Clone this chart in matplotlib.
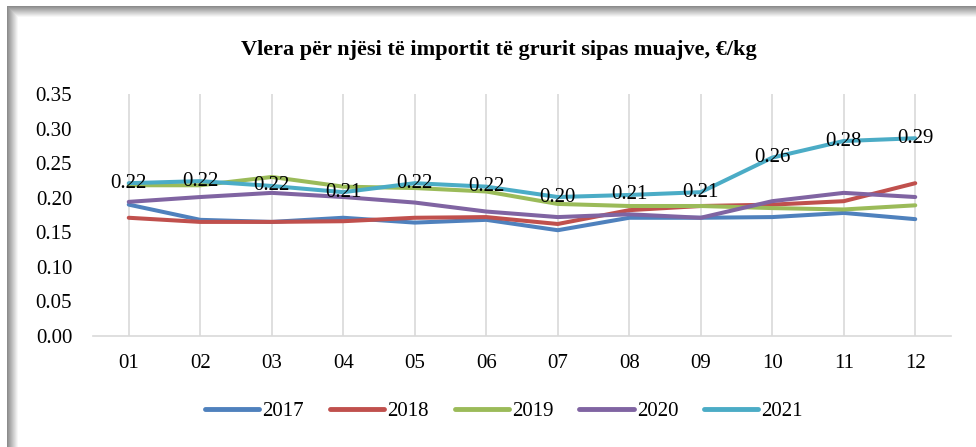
import matplotlib
matplotlib.use("Agg")
import matplotlib.pyplot as plt
from matplotlib.patches import Rectangle

months = ["01", "02", "03", "04", "05", "06", "07", "08", "09", "10", "11", "12"]
y2017 = [0.190, 0.168, 0.165, 0.171, 0.164, 0.168, 0.153, 0.171, 0.171, 0.172, 0.178, 0.169]
y2018 = [0.171, 0.165, 0.165, 0.166, 0.171, 0.172, 0.162, 0.182, 0.188, 0.190, 0.195, 0.221]
y2019 = [0.218, 0.218, 0.230, 0.216, 0.214, 0.209, 0.191, 0.188, 0.188, 0.185, 0.183, 0.189]
y2020 = [0.194, 0.201, 0.207, 0.201, 0.193, 0.180, 0.172, 0.176, 0.171, 0.195, 0.207, 0.201]
y2021 = [0.221, 0.224, 0.217, 0.208, 0.221, 0.216, 0.201, 0.204, 0.208, 0.258, 0.282, 0.286]
labels2021 = ["0.22", "0.22", "0.22", "0.21", "0.22", "0.22", "0.20", "0.21", "0.21", "0.26", "0.28", "0.29"]
series_names = ["2017", "2018", "2019", "2020", "2021"]
colors = ["#4F81BD", "#C0504D", "#9BBB59", "#8064A2", "#4BACC6"]
yticks = [0.00, 0.05, 0.10, 0.15, 0.20, 0.25, 0.30, 0.35]

W, H = 976, 447
fig = plt.figure(figsize=(W / 100, H / 100), dpi=100)

# shadowed frame
for i in range(11):
    g = 0.55 + 0.42 * (i / 10)
    fig.patches.append(Rectangle(((7 + i) / W, 0), 1, (H - 6 - i) / H, transform=fig.transFigure,
                                 facecolor=(g, g, g), edgecolor="none", zorder=-2))
fig.patches.append(Rectangle((18 / W, 0), 1, (H - 17) / H, transform=fig.transFigure,
                             facecolor="white", edgecolor="none", zorder=-1))

ax = fig.add_axes([93 / W, 1 - 336 / H, (951 - 93) / W, (336 - 94) / H])
ax.set_zorder(2)
ax.set_facecolor("none")
x = list(range(1, 13))
data = [y2017, y2018, y2019, y2020, y2021]
for name, vals, c in zip(series_names, data, colors):
    ax.plot(x, vals, color=c, lw=2.9, label=name, solid_capstyle="round", zorder=3)

FS = 15
for xi, v, lab in zip(x, y2021, labels2021):
    ax.text(xi, v, lab, ha="center", va="center", fontsize=FS,
            family="Liberation Serif", color="black", zorder=5)

ax.set_xlim(0.5, 12.5)
ax.set_ylim(0, 0.35)
ax.set_xticks(x)
ax.set_xticklabels(months)
ax.set_yticks(yticks)
ax.set_yticklabels([f"{t:.2f}" for t in yticks])
ax.grid(axis="x", color="#D9D9D9", lw=1.2)
ax.grid(axis="y", visible=False)
for s in ["top", "right", "left"]:
    ax.spines[s].set_visible(False)
ax.spines["bottom"].set_color("#D9D9D9")
ax.spines["bottom"].set_linewidth(1.2)
ax.tick_params(axis="x", length=0, pad=13)
ax.tick_params(axis="y", length=0, pad=15)
for lab in ax.get_xticklabels() + ax.get_yticklabels():
    lab.set_family("Liberation Serif")
    lab.set_fontsize(FS)

fig.text(499 / W, 1 - 50 / H, "Vlera për njësi të importit të grurit sipas muajve, €/kg",
         ha="center", va="center", fontsize=16, fontweight="bold", family="Liberation Serif")

leg = fig.legend(loc="center", bbox_to_anchor=(504 / W, 1 - 411 / H), ncol=5, frameon=False,
                 prop={"family": "Liberation Serif", "size": FS}, handlelength=2.6,
                 handletextpad=0.15, columnspacing=1.25)
for h in leg.get_lines():
    h.set_linewidth(3.5)

fig.savefig("out.png", dpi=100)
